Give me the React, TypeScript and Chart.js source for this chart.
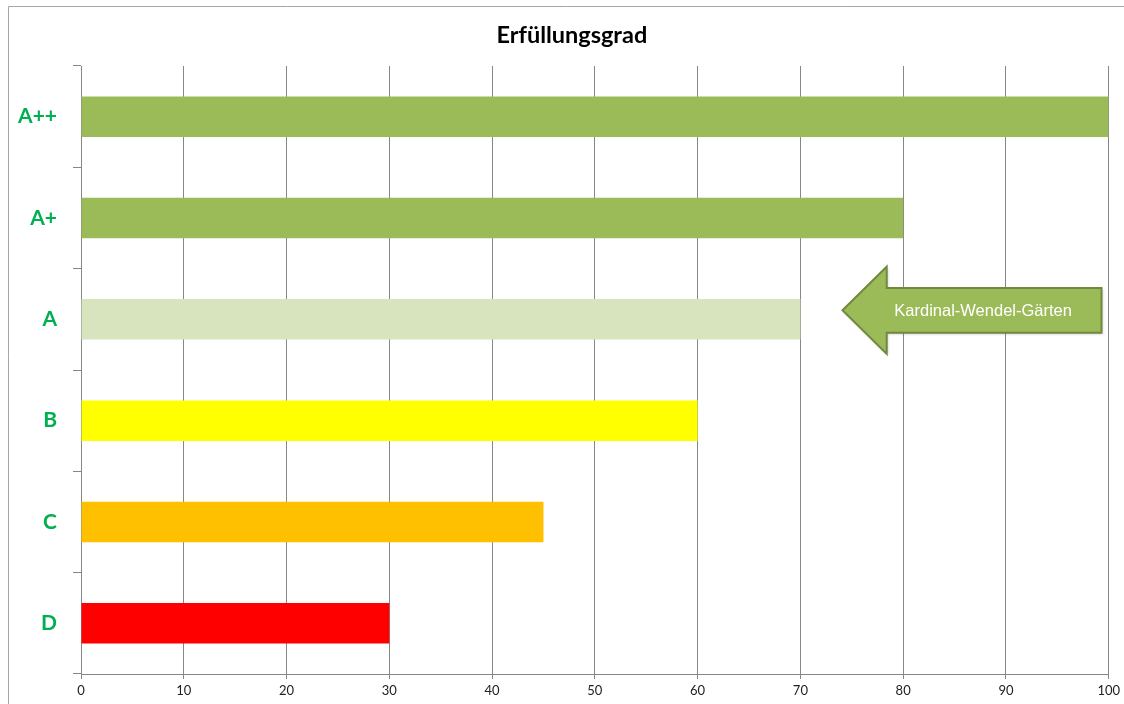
import React, { useEffect, useRef } from "react";
import { Chart, registerables } from "chart.js";

Chart.register(...registerables);

const categories = ["A++", "A+", "A", "B", "C", "D"];
const values = [100, 80, 70, 60, 45, 30];
const barColors = ["#9BBB59", "#9BBB59", "#D7E4BD", "#FFFF00", "#FFC000", "#FF0000"];
const xTicks = [0, 10, 20, 30, 40, 50, 60, 70, 80, 90, 100];
const titleText = "Erfüllungsgrad";
const arrowLabel = "Kardinal-Wendel-Gärten";
const arrowCategory = "A";
const arrowTipValue = 74.1;
const arrowHeadBaseValue = 78.4;
const arrowEndValue = 99.3;

const titlePlugin = {
  id: "centeredTitle",
  afterDraw(chart: any) {
    const { ctx, chartArea } = chart;
    ctx.save();
    ctx.fillStyle = "#000000";
    ctx.font = "bold 23.5px Lato, 'Open Sans', sans-serif";
    ctx.textAlign = "center";
    ctx.textBaseline = "middle";
    ctx.fillText(titleText, (chartArea.left + chartArea.right) / 2 - 23, chartArea.top - 31);
    ctx.restore();
  },
};

const arrowPlugin = {
  id: "arrowNote",
  afterDatasetsDraw(chart: any) {
    const { ctx, scales } = chart;
    const xs = scales.x;
    const ys = scales.y;
    const idx = categories.indexOf(arrowCategory);
    const cy = ys.getPixelForValue(idx) - 9;
    const band = ys.getPixelForValue(1) - ys.getPixelForValue(0);
    const headHalf = band * 0.43;
    const bodyHalf = band * 0.22;
    const tip = xs.getPixelForValue(arrowTipValue);
    const hb = xs.getPixelForValue(arrowHeadBaseValue);
    const end = xs.getPixelForValue(arrowEndValue);
    ctx.save();
    ctx.beginPath();
    ctx.moveTo(tip, cy);
    ctx.lineTo(hb, cy - headHalf);
    ctx.lineTo(hb, cy - bodyHalf);
    ctx.lineTo(end, cy - bodyHalf);
    ctx.lineTo(end, cy + bodyHalf);
    ctx.lineTo(hb, cy + bodyHalf);
    ctx.lineTo(hb, cy + headHalf);
    ctx.closePath();
    ctx.shadowColor = "rgba(0,0,0,0.25)";
    ctx.shadowBlur = 3;
    ctx.shadowOffsetX = 1;
    ctx.shadowOffsetY = 1;
    ctx.fillStyle = "#9BBB59";
    ctx.fill();
    ctx.shadowColor = "transparent";
    ctx.lineWidth = 2;
    ctx.strokeStyle = "#71893F";
    ctx.stroke();
    ctx.fillStyle = "#FFFFFF";
    ctx.font = "16.5px 'Liberation Sans', Arial, sans-serif";
    ctx.textAlign = "center";
    ctx.textBaseline = "middle";
    ctx.fillText(arrowLabel, (hb + end) / 2 - 11, cy + 1);
    ctx.restore();
  },
};

const framePlugin = {
  id: "frame",
  beforeDraw(chart: any) {
    const { ctx, width, height } = chart;
    ctx.save();
    ctx.fillStyle = "#FFFFFF";
    ctx.fillRect(0, 0, width, height);
    ctx.strokeStyle = "#A6A6A6";
    ctx.lineWidth = 1;
    ctx.beginPath();
    ctx.moveTo(8.5, height);
    ctx.lineTo(8.5, 6.5);
    ctx.lineTo(width, 6.5);
    ctx.stroke();
    ctx.restore();
  },
};

export default function App() {
  const ref = useRef<HTMLCanvasElement>(null);
  useEffect(() => {
    if (!ref.current) return;
    const chart = new Chart(ref.current, {
      type: "bar",
      data: {
        labels: categories,
        datasets: [
          {
            data: values,
            backgroundColor: barColors,
            borderWidth: 0,
            barPercentage: 0.4,
            categoryPercentage: 1,
          },
        ],
      },
      options: {
        indexAxis: "y",
        responsive: false,
        animation: false,
        layout: { padding: { left: 0, right: 14, top: 66, bottom: 0 } },
        plugins: {
          legend: { display: false },
          tooltip: { enabled: false },
          title: { display: false },
        },
        scales: {
          x: {
            min: 0,
            max: 100,
            afterBuildTicks(scale: any) {
              scale.ticks = xTicks.map((v) => ({ value: v }));
            },
            afterFit(scale: any) {
              scale.height = 30;
            },
            grid: {
              color: "#878787",
              lineWidth: 1,
              drawTicks: true,
              tickLength: 5,
            },
            border: { color: "#878787" },
            ticks: {
              color: "#222222",
              font: { family: "Lato, 'Open Sans', sans-serif", size: 13 },
              padding: 4,
              maxRotation: 0,
            },
          },
          y: {
            afterFit(scale: any) {
              scale.width = 81;
            },
            grid: {
              display: true,
              drawOnChartArea: false,
              drawTicks: true,
              tickLength: 8,
              offset: true,
              color: "#878787",
            },
            border: { color: "#878787" },
            ticks: {
              color: "#00B050",
              font: { family: "Lato, 'Open Sans', sans-serif", size: 21, weight: "bold" },
              padding: 16,
            },
          },
        },
      },
      plugins: [framePlugin, arrowPlugin, titlePlugin],
    } as any);
    return () => chart.destroy();
  }, []);
  return (
    <canvas
      ref={ref}
      width={1124}
      height={704}
      style={{ position: "absolute", left: 0, top: 0, display: "block" }}
    />
  );
}
